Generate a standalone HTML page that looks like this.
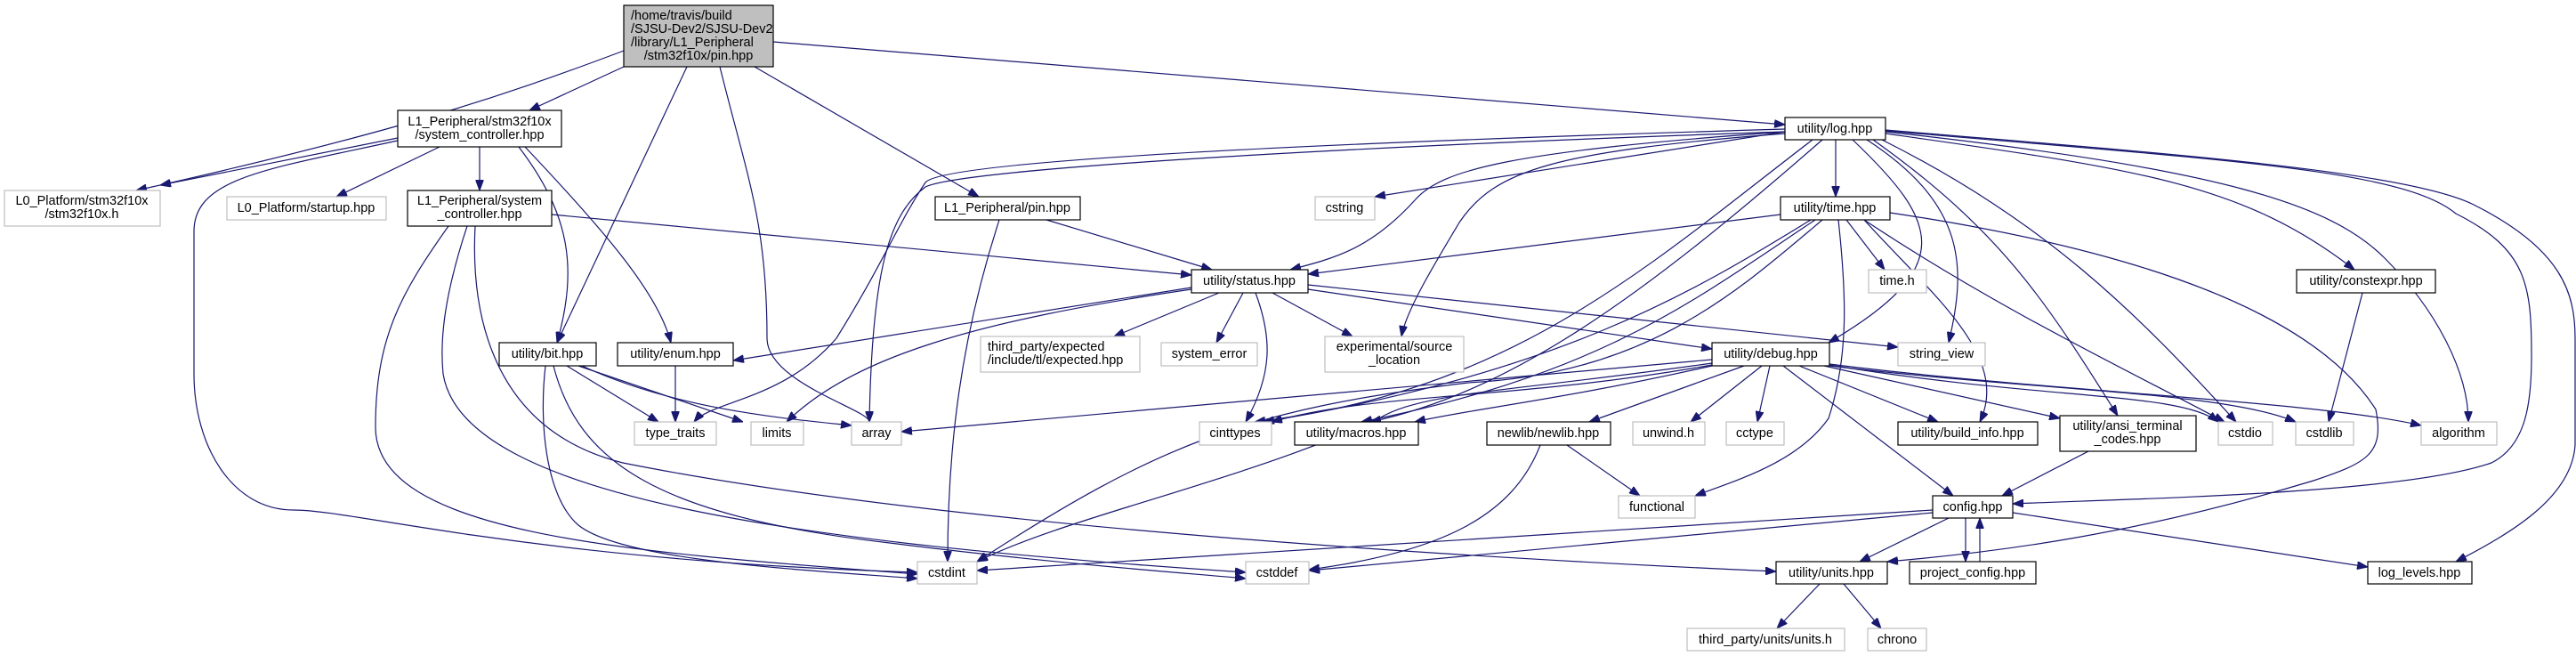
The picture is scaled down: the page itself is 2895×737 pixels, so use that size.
<!DOCTYPE html>
<html><head><meta charset="utf-8"><style>
html,body{margin:0;padding:0;background:#fff;}
svg{display:block;}
text{font-family:"Liberation Sans",sans-serif;font-size:14.5px;fill:#000;}
.b{fill:#fff;stroke:#000;stroke-width:1.2;}
.g{fill:#fff;stroke:#bfbfbf;stroke-width:1.2;}
.r{fill:#bfbfbf;stroke:#000;stroke-width:1.2;}
path{fill:none;stroke:#191970;stroke-width:1.2;}
</style></head><body>
<svg width="2895" height="737" viewBox="0 0 2895 737" xmlns="http://www.w3.org/2000/svg">
<defs><marker id="a" viewBox="0 0 12 9" refX="12" refY="4.5" markerWidth="12" markerHeight="9" markerUnits="userSpaceOnUse" orient="auto"><path d="M0,0 L12,4.5 L0,9 Z" style="fill:#191970;stroke:#191970;stroke-width:1"/></marker></defs>
<g marker-end="url(#a)">
<path d="M701,57 C560,110 440,150 153,214"/>
<path d="M701,75 L595,124"/>
<path d="M772,75 L626,385"/>
<path d="M809,75 C840,200 862,250 862,380 C862,430 977,460 977,474"/>
<path d="M848,75 L1100,221"/>
<path d="M869,47 L2006,140"/>
<path d="M447,155 L180,208"/>
<path d="M447,158 C300,190 218,200 218,260 L218,420 C218,500 260,573 330,573 C400,573 600,630 1031,643"/>
<path d="M494,165 L378,221"/>
<path d="M539,165 L539,214"/>
<path d="M583,165 C640,240 650,300 626,385"/>
<path d="M590,165 C680,260 740,330 754,385"/>
<path d="M620,241 L1339,309"/>
<path d="M504,254 C450,330 422,380 422,480 C422,600 700,620 1031,645"/>
<path d="M525,254 C500,330 494,380 498,420 C520,560 900,610 1400,643"/>
<path d="M534,254 C530,330 540,480 700,520 C1000,580 1500,620 1996,642"/>
<path d="M637,411 L740,474"/>
<path d="M650,411 L835,474"/>
<path d="M654,411 C760,460 880,470 957,478"/>
<path d="M613,411 C605,480 615,560 650,590 C700,630 900,640 1031,650"/>
<path d="M622,411 C650,520 740,580 1000,610 C1200,635 1350,645 1400,650"/>
<path d="M759,411 L759,474"/>
<path d="M1176,247 L1362,303"/>
<path d="M1123,247 C1080,380 1065,500 1065,631"/>
<path d="M2006,145 C1500,160 1060,180 1040,205 C1010,250 990,300 940,380 C880,450 800,450 780,474"/>
<path d="M2006,148 C1500,165 1080,190 1040,210 C1000,240 980,300 977,474"/>
<path d="M2006,148 L1545,221"/>
<path d="M2006,148 C1700,170 1620,190 1590,225 C1540,280 1500,290 1450,303"/>
<path d="M2006,150 C1750,170 1680,190 1640,250 C1610,300 1580,350 1575,378"/>
<path d="M2063,157 L2063,221"/>
<path d="M2037,157 C1850,300 1700,440 1410,474"/>
<path d="M2048,157 C1850,330 1700,440 1540,474"/>
<path d="M2082,157 C2180,250 2200,300 2055,385"/>
<path d="M2098,157 C2210,230 2210,300 2190,385"/>
<path d="M2105,157 C2250,260 2300,340 2380,467"/>
<path d="M2115,157 C2300,250 2400,350 2513,474"/>
<path d="M2119,150 C2400,190 2520,205 2646,303"/>
<path d="M2119,148 C2500,190 2620,230 2680,290 C2740,350 2774,420 2774,474"/>
<path d="M2119,147 C2500,180 2700,190 2760,240 C2840,280 2845,320 2845,400 C2845,450 2840,500 2800,520 C2700,555 2400,560 2262,566"/>
<path d="M2119,146 C2400,170 2700,190 2780,230 C2880,280 2894,330 2894,380 L2894,500 C2890,560 2820,600 2760,631"/>
<path d="M2001,241 L1470,308"/>
<path d="M2035,247 C1900,330 1750,420 1420,474"/>
<path d="M2040,247 C1900,340 1800,420 1530,474"/>
<path d="M2048,247 C1950,330 1850,420 1650,430 C1400,460 1300,500 1098,631"/>
<path d="M2075,247 L2118,303"/>
<path d="M2066,247 C2075,330 2078,400 2055,470 C2020,520 1950,540 1905,557"/>
<path d="M2095,247 C2170,330 2260,400 2225,474"/>
<path d="M2095,247 C2250,350 2400,420 2500,474"/>
<path d="M2124,239 C2400,280 2600,350 2670,460 C2680,510 2660,520 2600,540 C2400,600 2250,620 2121,631"/>
<path d="M1339,323 L824,405"/>
<path d="M1339,325 C1100,360 960,400 884,474"/>
<path d="M1370,329 L1252,378"/>
<path d="M1397,329 L1367,385"/>
<path d="M1411,329 C1430,380 1430,420 1400,474"/>
<path d="M1430,329 L1520,378"/>
<path d="M1470,320 L2133,390"/>
<path d="M1470,325 L1924,392"/>
<path d="M1924,404 L1013,485"/>
<path d="M1924,408 C1700,440 1600,440 1550,470 C1400,540 1200,580 1098,631"/>
<path d="M1924,410 C1700,450 1550,440 1429,474"/>
<path d="M1924,411 C1750,450 1650,460 1590,474"/>
<path d="M1960,411 L1786,474"/>
<path d="M1980,411 L1900,474"/>
<path d="M1989,411 L1975,474"/>
<path d="M2022,411 L2178,474"/>
<path d="M2050,411 L2315,470"/>
<path d="M2004,411 L2195,557"/>
<path d="M2056,410 C2300,450 2450,440 2493,474"/>
<path d="M2056,411 C2300,440 2500,440 2580,474"/>
<path d="M2056,409 C2300,440 2600,450 2721,478"/>
<path d="M2347,507 L2250,557"/>
<path d="M2655,329 L2617,474"/>
<path d="M1761,500 L1843,557"/>
<path d="M1731,500 C1700,580 1620,620 1471,640"/>
<path d="M2172,573 L1098,641"/>
<path d="M2172,576 L1471,641"/>
<path d="M2190,582 L2090,631"/>
<path d="M2209,582 L2209,631"/>
<path d="M2225,631 L2225,582"/>
<path d="M2262,576 L2661,637"/>
<path d="M2045,656 L1997,706"/>
<path d="M2072,656 L2114,706"/>
</g>
<rect class="r" x="701" y="6" width="168" height="69"/>
<text x="709" y="22">/home/travis/build</text>
<text x="709" y="37">/SJSU-Dev2/SJSU-Dev2</text>
<text x="709" y="52">/library/L1_Peripheral</text>
<text x="785" y="67" text-anchor="middle">/stm32f10x/pin.hpp</text>

<rect class="b" x="447" y="124" width="184" height="41"/>
<text x="539" y="141" text-anchor="middle">L1_Peripheral/stm32f10x</text>
<text x="539" y="156" text-anchor="middle">/system_controller.hpp</text>

<rect class="g" x="5" y="214" width="175" height="40"/>
<text x="92" y="230" text-anchor="middle">L0_Platform/stm32f10x</text>
<text x="92" y="245" text-anchor="middle">/stm32f10x.h</text>

<rect class="g" x="255" y="221" width="179" height="26"/>
<text x="344" y="238" text-anchor="middle">L0_Platform/startup.hpp</text>

<rect class="b" x="458" y="214" width="162" height="40"/>
<text x="539" y="230" text-anchor="middle">L1_Peripheral/system</text>
<text x="539" y="245" text-anchor="middle">_controller.hpp</text>

<rect class="b" x="561" y="385" width="109" height="26"/><text x="615" y="402" text-anchor="middle">utility/bit.hpp</text>
<rect class="b" x="694" y="385" width="130" height="26"/><text x="759" y="402" text-anchor="middle">utility/enum.hpp</text>
<rect class="g" x="713" y="474" width="92" height="26"/><text x="759" y="491" text-anchor="middle">type_traits</text>
<rect class="g" x="844" y="474" width="59" height="26"/><text x="873" y="491" text-anchor="middle">limits</text>
<rect class="g" x="957" y="474" width="56" height="26"/><text x="985" y="491" text-anchor="middle">array</text>

<rect class="b" x="1051" y="221" width="163" height="26"/><text x="1132" y="238" text-anchor="middle">L1_Peripheral/pin.hpp</text>
<rect class="g" x="1478" y="221" width="67" height="26"/><text x="1511" y="238" text-anchor="middle">cstring</text>
<rect class="b" x="1339" y="303" width="131" height="26"/><text x="1404" y="320" text-anchor="middle">utility/status.hpp</text>

<rect class="g" x="1102" y="378" width="179" height="40"/>
<text x="1110" y="394">third_party/expected</text>
<text x="1110" y="409">/include/tl/expected.hpp</text>
<rect class="g" x="1305" y="385" width="108" height="26"/><text x="1359" y="402" text-anchor="middle">system_error</text>
<rect class="g" x="1489" y="378" width="156" height="40"/>
<text x="1567" y="394" text-anchor="middle">experimental/source</text>
<text x="1567" y="409" text-anchor="middle">_location</text>
<rect class="b" x="1924" y="385" width="132" height="26"/><text x="1990" y="402" text-anchor="middle">utility/debug.hpp</text>

<rect class="g" x="1348" y="474" width="81" height="26"/><text x="1388" y="491" text-anchor="middle">cinttypes</text>
<rect class="b" x="1455" y="474" width="139" height="26"/><text x="1524" y="491" text-anchor="middle">utility/macros.hpp</text>
<rect class="b" x="1671" y="474" width="139" height="26"/><text x="1740" y="491" text-anchor="middle">newlib/newlib.hpp</text>
<rect class="g" x="1835" y="474" width="81" height="26"/><text x="1875" y="491" text-anchor="middle">unwind.h</text>
<rect class="g" x="1940" y="474" width="65" height="26"/><text x="1972" y="491" text-anchor="middle">cctype</text>
<rect class="g" x="1819" y="557" width="86" height="25"/><text x="1862" y="574" text-anchor="middle">functional</text>
<rect class="g" x="1031" y="631" width="67" height="25"/><text x="1064" y="648" text-anchor="middle">cstdint</text>
<rect class="g" x="1400" y="631" width="71" height="25"/><text x="1435" y="648" text-anchor="middle">cstddef</text>
<rect class="g" x="1896" y="706" width="177" height="25"/><text x="1984" y="723" text-anchor="middle">third_party/units/units.h</text>

<rect class="b" x="2006" y="132" width="113" height="25"/><text x="2062" y="149" text-anchor="middle">utility/log.hpp</text>
<rect class="b" x="2001" y="221" width="123" height="26"/><text x="2062" y="238" text-anchor="middle">utility/time.hpp</text>
<rect class="g" x="2100" y="303" width="65" height="26"/><text x="2132" y="320" text-anchor="middle">time.h</text>
<rect class="b" x="2581" y="303" width="156" height="26"/><text x="2659" y="320" text-anchor="middle">utility/constexpr.hpp</text>
<rect class="g" x="2133" y="385" width="98" height="26"/><text x="2182" y="402" text-anchor="middle">string_view</text>

<rect class="b" x="2133" y="474" width="157" height="26"/><text x="2211" y="491" text-anchor="middle">utility/build_info.hpp</text>
<rect class="b" x="2315" y="467" width="153" height="40"/>
<text x="2391" y="483" text-anchor="middle">utility/ansi_terminal</text>
<text x="2391" y="498" text-anchor="middle">_codes.hpp</text>
<rect class="g" x="2493" y="474" width="61" height="26"/><text x="2523" y="491" text-anchor="middle">cstdio</text>
<rect class="g" x="2580" y="474" width="65" height="26"/><text x="2612" y="491" text-anchor="middle">cstdlib</text>
<rect class="g" x="2721" y="474" width="85" height="26"/><text x="2763" y="491" text-anchor="middle">algorithm</text>
<rect class="b" x="2172" y="557" width="90" height="25"/><text x="2217" y="574" text-anchor="middle">config.hpp</text>
<rect class="b" x="1996" y="631" width="125" height="25"/><text x="2058" y="648" text-anchor="middle">utility/units.hpp</text>
<rect class="b" x="2146" y="631" width="142" height="25"/><text x="2217" y="648" text-anchor="middle">project_config.hpp</text>
<rect class="b" x="2661" y="631" width="117" height="25"/><text x="2719" y="648" text-anchor="middle">log_levels.hpp</text>
<rect class="g" x="2099" y="706" width="66" height="25"/><text x="2132" y="723" text-anchor="middle">chrono</text>
</svg>
</body></html>
